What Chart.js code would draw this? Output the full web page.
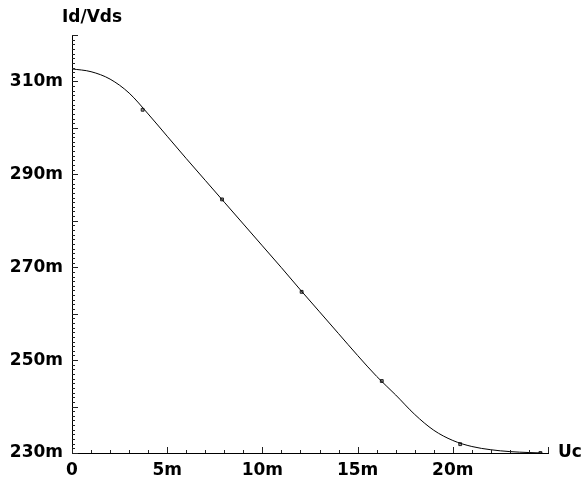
<!DOCTYPE html>
<html>
<head>
<meta charset="utf-8">
<script src="https://cdn.jsdelivr.net/npm/chart.js@4/dist/chart.umd.min.js"></script>
<style>
  html, body { margin: 0; padding: 0; background: #fff; }
</style>
</head>
<body>
<canvas id="myChart" width="583" height="487"></canvas>
<script>
// curve (x in mUc, y in m Id/Vds)
const ucValues    = [0, 1, 2, 3, 4, 5, 6, 7, 8, 9, 10, 11, 12, 13, 14, 15, 16, 17, 18, 19, 20, 21, 22, 23, 24, 24.7];
const idVdsValues = [312.7, 312.1, 310.5, 307.5, 303.0, 298.2, 293.4, 288.7, 284.0, 279.3, 274.6, 269.9, 265.1,
                     260.4, 255.7, 251.0, 246.5, 242.5, 238.3, 234.9, 232.7, 231.4, 230.7, 230.3, 230.1, 230.0];

// small square markers on the curve
const markerUc    = [3.71, 7.88, 12.06, 16.27, 20.39, 24.6];
const markerIdVds = [303.9, 284.6, 264.7, 245.5, 231.9, 230.0];

const xLabelValues = [0, 5, 10, 15, 20];
const xTickLabels  = ['0', '5m', '10m', '15m', '20m'];
const yLabelValues = [230, 250, 270, 290, 310];
const yTickLabels  = ['230m', '250m', '270m', '290m', '310m'];

const xTitle = 'Uc';
const yTitle = 'Id/Vds';

const toPoints = (xs, ys) => xs.map((x, i) => ({ x: x, y: ys[i] }));

const fontMain = { family: 'DejaVu Sans', size: 17, weight: 'bold' };

// ticks drawn inside the plot area, like the original
const innerTicks = {
   id: 'innerTicks',
   afterDraw(chart) {
      const ctx = chart.ctx;
      const xs = chart.scales.x, ys = chart.scales.y;
      const area = chart.chartArea;
      ctx.save();
      ctx.strokeStyle = '#222';
      ctx.lineWidth = 1;
      ctx.beginPath();
      for (let v = xs.min; v <= xs.max; v++) {
         const px = Math.round(xs.getPixelForValue(v)) + 0.5;
         const len = v % 5 == 0 ? 6 : 3;
         ctx.moveTo(px, area.bottom);
         ctx.lineTo(px, area.bottom - len);
      }
      for (let v = ys.min; v <= ys.max; v++) {
         const py = Math.round(ys.getPixelForValue(v)) + 0.5;
         const len = v % 10 == 0 ? 6 : 3;
         ctx.moveTo(area.left, py);
         ctx.lineTo(area.left + len, py);
      }
      ctx.stroke();

      ctx.fillStyle = '#000';
      ctx.font = 'bold 17px "DejaVu Sans"';
      ctx.textBaseline = 'middle';
      ctx.textAlign = 'center';
      ctx.fillText(yTitle, area.left + 20, 18);
      ctx.textAlign = 'left';
      ctx.fillText(xTitle, area.right + 10, area.bottom);
      ctx.restore();
   }
};

const data = {
   datasets: [{
      label: 'Id/Vds',
      data: toPoints(ucValues, idVdsValues),
      borderColor: '#000',
      borderWidth: 1,
      pointRadius: 0,
      fill: false,
      cubicInterpolationMode: 'monotone'
   }, {
      label: 'markers',
      data: toPoints(markerUc, markerIdVds),
      showLine: false,
      pointStyle: 'rect',
      pointRadius: 2,
      borderWidth: 1,
      borderColor: '#222',
      backgroundColor: '#999'
   }]
};

const config = {
   type: 'line',
   data: data,
   options: {
      responsive: false,
      animation: false,
      layout: { padding: { left: 0, right: 35, top: 35, bottom: 0 } },
      plugins: { legend: { display: false }, tooltip: { enabled: false } },
      scales: {
         x: {
            type: 'linear',
            min: 0,
            max: 25,
            grid: { display: false, drawTicks: false },
            border: { display: true, color: '#000', width: 1 },
            ticks: {
               stepSize: 5,
               padding: 7,
               color: '#000',
               font: fontMain,
               maxRotation: 0,
               autoSkip: false,
               callback: (v) => { const i = xLabelValues.indexOf(v); return i < 0 ? '' : xTickLabels[i]; }
            },
            afterFit: (s) => { s.height = 34; }
         },
         y: {
            type: 'linear',
            min: 230,
            max: 320,
            grid: { display: false, drawTicks: false },
            border: { display: true, color: '#000', width: 1 },
            ticks: {
               stepSize: 10,
               padding: 9,
               color: '#000',
               font: fontMain,
               autoSkip: false,
               callback: (v) => { const i = yLabelValues.indexOf(v); return i < 0 ? '' : yTickLabels[i]; }
            },
            afterFit: (s) => { s.width = 72; }
         }
      }
   },
   plugins: [innerTicks]
};

var ctx = document.getElementById('myChart').getContext('2d');
var myChart = new Chart(ctx, config);
</script>
</body>
</html>
